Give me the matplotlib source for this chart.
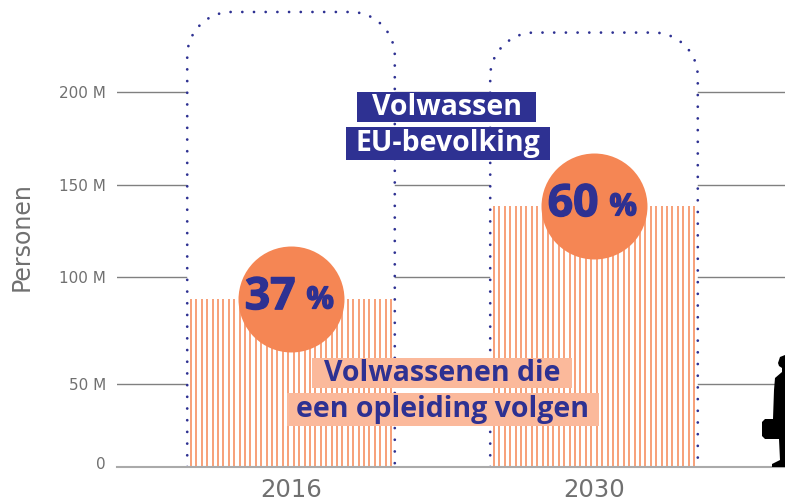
import numpy as np
import matplotlib
matplotlib.use('agg')

import matplotlib.pyplot as plt
import matplotlib.patheffects as pe
from matplotlib.path import Path
from matplotlib.patches import PathPatch, Rectangle
from matplotlib.transforms import ScaledTranslation

years = ['2016', '2030']
learners = [89.7, 139.4]
population = [243, 232]
shares = ['37', '60']

# the tick spacing in the original is not even
tick_pos = [0, 44.3, 101.5, 150.6, 200]
tick_labels = ['0', '50 M', '100 M', '150 M', '200 M']

navy = '#2e3192'
orange = '#f58654'
salmon = '#fbb99b'
grey = '#707070'

fig = plt.figure(figsize=(7.85, 5.01), dpi=100)
ax = fig.add_axes([117 / 785, (501 - 467) / 501, 668 / 785, 467 / 501])
ax.set_xlim((117 - 291) / 303, (785 - 291) / 303)
ax.set_ylim(0, 467 / 1.8725)
for s in ax.spines.values():
    s.set_visible(False)

ax.set_xticks(range(len(years)))
ax.set_xticklabels(years, fontsize=17.5, color=grey)
ax.set_yticks(tick_pos)
ax.set_yticklabels(tick_labels, fontsize=11, color=grey)
ax.tick_params(length=0)
ax.tick_params(axis='y', pad=8)
ax.tick_params(axis='x', pad=8)
# the 0 sits a little above its line
zero = ax.get_yticklabels()[0]
zero.set_transform(zero.get_transform() + ScaledTranslation(0, 0.04, fig.dpi_scale_trans))
ax.set_axisbelow(True)
ax.grid(axis='y', color='#808080', lw=1, zorder=1)
ax.axhline(0, color='#aaaaaa', lw=1.5, zorder=4, clip_on=False)

# dotted rounded boxes, white inside so the grid stops at them
rx = 44 / 303
ry = 44 / 1.8725
k = 0.45
half = 0.3425
for i, top in enumerate(population):
    l, r = i - half, i + half
    verts = [(l, 0), (l, top - ry), (l, top - k * ry), (l + k * rx, top), (l + rx, top),
             (r - rx, top), (r - k * rx, top), (r, top - k * ry), (r, top - ry), (r, 0)]
    codes = [Path.MOVETO, Path.LINETO, Path.CURVE4, Path.CURVE4, Path.CURVE4,
             Path.LINETO, Path.CURVE4, Path.CURVE4, Path.CURVE4, Path.LINETO]
    ax.add_patch(PathPatch(Path(verts, codes), facecolor='white', edgecolor=navy, lw=2,
                           linestyle=(0, (0.01, 4.2)), capstyle='round', zorder=2))

# striped bars
for i, v in enumerate(learners):
    ax.vlines(np.linspace(i - 0.33, i + 0.33, 38), 0, v, color=orange, lw=1.1, zorder=3)

ax.scatter(range(len(years)), learners, s=5822, color=orange, linewidths=0, zorder=5)

heavy = [pe.withStroke(linewidth=1, foreground=navy)]
for i, v in enumerate(learners):
    ax.annotate(shares[i], (i, v), xytext=(-15, 1), textcoords='offset points', ha='center', va='center',
                fontsize=32, fontweight='bold', color=navy, family='Open Sans', zorder=6, path_effects=heavy)
    ax.annotate('%', (i, v), xytext=(21, -1), textcoords='offset points', ha='center', va='center',
                fontsize=22, fontweight='bold', color=navy, family='Open Sans', zorder=6, path_effects=heavy)

fig.text(22 / 785, 1 - 237 / 501, 'Personen', rotation=90, ha='center', va='center', fontsize=17, color=grey)

# overlay in pixels for the labels and the figure on the right
ov = fig.add_axes([0, 0, 1, 1], zorder=10)
ov.set_xlim(0, 785)
ov.set_ylim(501, 0)
ov.axis('off')

labels = [('Volwassen', 357, 536, 92, 122, navy, 'white'),
          ('EU-bevolking', 346, 550, 127, 160, navy, 'white'),
          ('Volwassenen die', 312, 572, 358, 388, salmon, navy),
          ('een opleiding volgen', 287, 599, 393, 426, salmon, navy)]
for txt, x0, x1, y0, y1, bg, fg in labels:
    ov.add_patch(Rectangle((x0, y0), x1 - x0, y1 - y0, facecolor=bg, edgecolor='none'))
    ov.text((x0 + x1) / 2, (y0 + y1) / 2 + 0.5, txt, ha='center', va='center', fontsize=20.5,
            fontweight='bold', color=fg, family='Open Sans')

person = [(785, 355), (780, 357), (778, 363), (779, 366), (782, 368), (782, 372), (775, 378), (774, 390),
          (773, 419), (765, 419), (762, 422), (762, 436), (765, 439), (779, 439), (780, 460), (772, 464),
          (772, 467), (785, 467)]
ov.fill(*zip(*person), color='black', lw=0)

plt.savefig('out.png', dpi=100)
